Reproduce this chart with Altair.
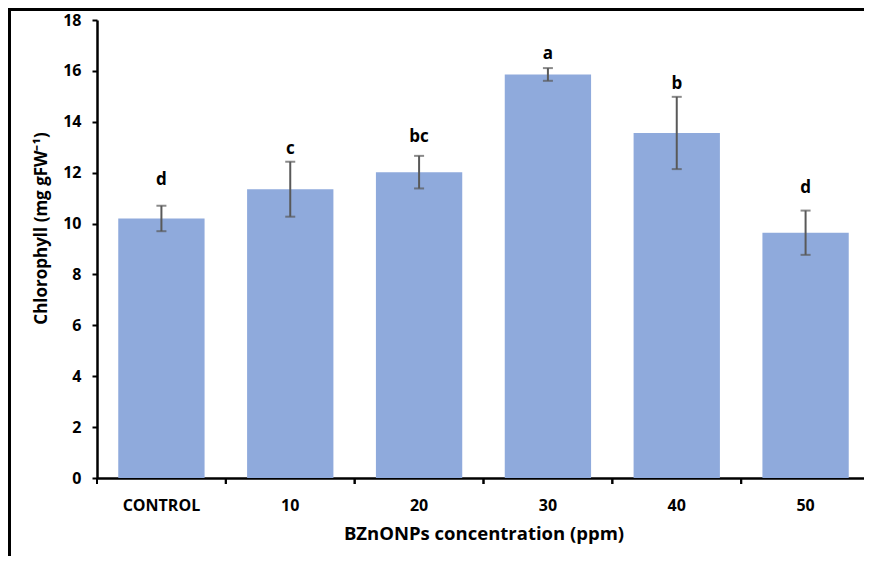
import altair as alt
import pandas as pd

categories = ["CONTROL", "10", "20", "30", "40", "50"]
means = [10.20, 11.35, 12.02, 15.86, 13.56, 9.64]
errors = [0.50, 1.08, 0.64, 0.25, 1.42, 0.87]
letters = ["d", "c", "bc", "a", "b", "d"]
label_y = [11.52, 12.74, 13.19, 16.48, 15.30, 11.20]
y_ticks = [0, 2, 4, 6, 8, 10, 12, 14, 16, 18]

df = pd.DataFrame({
    "cat": categories,
    "mean": means,
    "err": errors,
    "letter": letters,
    "ly": label_y,
})
df["lo"] = df["mean"] - df["err"]
df["hi"] = df["mean"] + df["err"]

W, H = 773, 458
FONT = "Open Sans"

base = alt.Chart(df)

xs = alt.Scale(domain=categories, paddingInner=0, paddingOuter=0)
ys = alt.Scale(domain=[0, 18], nice=False)

xaxis = alt.Axis(title="BZnONPs concentration (ppm)", labelAngle=0,
                 ticks=False, tickSize=0, domainColor="black",
                 domainWidth=2.5, labelPadding=19, titlePadding=11,
                 labelFont=FONT, labelFontSize=16, labelFontWeight="bold",
                 labelColor="black", titleFont=FONT, titleFontSize=18.5,
                 titleFontWeight="bold", titleColor="black")
yaxis = alt.Axis(title="Chlorophyll (mg gFW\u207b\u00b9)", values=y_ticks,
                 grid=False, domainColor="black", domainWidth=2.5,
                 tickColor="black", tickWidth=2, tickSize=5,
                 labelPadding=11, labelFont=FONT, labelFontSize=16,
                 labelFontWeight="bold", labelColor="black",
                 titleFont=FONT, titleFontSize=17, titleFontWeight="bold",
                 titleColor="black", titleX=-47, titleY=208)


def X(**kw):
    return alt.X("cat:N", sort=categories, scale=xs, axis=xaxis, **kw)


def Y(field):
    return alt.Y(field, scale=ys, axis=yaxis)


bars = base.mark_bar(color="#8FAADC", width=alt.RelativeBandSize(0.67)).encode(
    x=X(), y=Y("mean:Q"),
)

err_rule = base.mark_rule(color="#595959", strokeWidth=2).encode(
    x=X(), y=Y("lo:Q"), y2="hi:Q",
)
err_hi = base.mark_tick(color="#595959", size=10, thickness=2).encode(
    x=X(), y=Y("hi:Q"),
)
err_lo = base.mark_tick(color="#595959", size=10, thickness=2).encode(
    x=X(), y=Y("lo:Q"),
)

labels = base.mark_text(font=FONT, fontSize=17, fontWeight="bold", color="black",
                        baseline="alphabetic").encode(
    x=X(), y=Y("ly:Q"), text="letter:N",
)

tick_start = base.mark_rule(color="black", strokeWidth=2).encode(
    x=X(bandPosition=0), y=alt.value(H), y2=alt.value(H + 6),
)
tick_end = base.mark_rule(color="black", strokeWidth=2).encode(
    x=X(bandPosition=1), y=alt.value(H), y2=alt.value(H + 6),
)

frame_src = alt.Chart(alt.Data(values=[{"k": 1}]))
frame_top = frame_src.mark_rule(color="black", strokeWidth=3).encode(
    x=alt.value(-89), x2=alt.value(W + 2), y=alt.value(-10.5)
)
frame_left = frame_src.mark_rule(color="black", strokeWidth=3).encode(
    x=alt.value(-87.5), y=alt.value(-12), y2=alt.value(H + 78)
)

chart = alt.layer(
    bars, err_rule, err_hi, err_lo, labels, tick_start, tick_end, frame_top, frame_left
).properties(
    width=W, height=H,
    autosize=alt.AutoSizeParams(type="none"),
    padding={"left": 89, "top": 12, "right": -6, "bottom": 78},
).configure(background="white").configure_view(stroke=None)

chart.save("out.html", embed_options={"renderer": "svg", "actions": False})
